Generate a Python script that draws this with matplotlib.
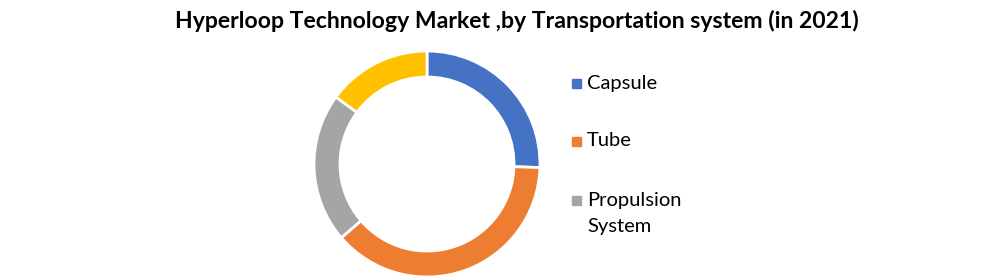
import matplotlib.pyplot as plt
from matplotlib.patches import Rectangle

categories = ["Capsule", "Tube", "Propulsion\nSystem", "Others"]
shares = [25.5, 38.2, 21.4, 14.9]
colors = ["#4472C4", "#ED7D31", "#A5A5A5", "#FFC000"]
legend_items = 3  # only the first three fit in the legend box

title = "Hyperloop Technology Market ,by Transportation system (in 2021)"

plt.rcParams["font.family"] = ["Lato", "DejaVu Sans"]

W, H = 1004, 279
fig = plt.figure(figsize=(W / 100, H / 100), dpi=100)

# donut: centre (427, 164) px from top-left, radius 113 px
cx, cy, r = 427, 164, 113
ax = fig.add_axes([(cx - r) / W, (H - cy - r) / H, 2 * r / W, 2 * r / H])
ax.pie(shares, colors=colors, startangle=90, counterclock=False,
       wedgeprops=dict(width=0.23, edgecolor="white", linewidth=2))
ax.set_xlim(-1.0, 1.0)
ax.set_ylim(-1.0, 1.0)
ax.set_aspect("equal")
ax.axis("off")

fig.text(517 / W, 1 - 21 / H, title, ha="center", va="center",
         fontsize=16.6, fontweight="bold")

# legend drawn by hand
ys = [83, 141, 200]
pitch = 27
for i in range(legend_items):
    y = ys[i]
    fig.patches.append(Rectangle((572 / W, 1 - (y + 4.5) / H), 9 / W, 9 / H,
                                 transform=fig.transFigure, color=colors[i]))
    n = categories[i].count("\n")
    fig.text(587 / W, 1 - (y + n * pitch / 2) / H, categories[i],
             ha="left", va="center", fontsize=14.5, linespacing=1.62)

fig.savefig("out.png", dpi=100)
